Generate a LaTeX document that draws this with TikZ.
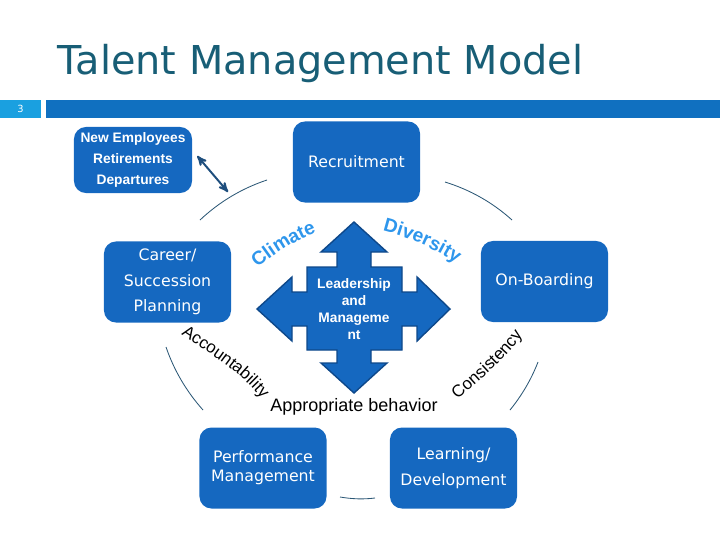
\documentclass[tikz,border=0pt]{standalone}
\usepackage{fontspec}
\setmainfont{DejaVu Sans}
\newfontfamily\arialfont{Liberation Sans}
\usepackage{tikz}
\usetikzlibrary{
  arrows,
  positioning,
  decorations.text
}
\definecolor{slidetitle}{RGB}{24,94,118}
\definecolor{boxblue}{RGB}{21,104,192}
\definecolor{barblue}{RGB}{16,112,192}
\definecolor{numcyan}{RGB}{26,160,224}
\definecolor{crossedge}{RGB}{14,72,138}
\definecolor{arcteal}{RGB}{44,88,118}
\definecolor{wordblue}{RGB}{46,150,236}
\definecolor{pairnavy}{RGB}{30,78,125}
\newcommand{\wordartfont}{\arialfont\bfseries\fontsize{13.6}{13.6}\selectfont\color{wordblue}}
\newcommand{\curvefont}{\arialfont\fontsize{12}{12}\selectfont}

\begin{document}
\begin{tikzpicture}[
      x=0.025cm,y=-0.025cm,
      stage/.style={
         rectangle,
         rounded corners=0.3cm,
         minimum width=3.175cm,
         minimum height=2.025cm,
         inner sep=0pt,
         fill=boxblue,
         text=white,
         align=center,
         font=\fontsize{11.2}{18.1}\selectfont
      },
      smallstage/.style={
         stage,
         minimum width=2.95cm,
         minimum height=1.65cm,
         font=\arialfont\bfseries\fontsize{9.8}{15}\selectfont
      },
      quad/.style={
         fill=boxblue,
         draw=crossedge,
         line width=1pt,
         line join=miter
      },
      numbox/.style={
         rectangle,
         fill=numcyan,
         text=white,
         minimum width=1.025cm,
         minimum height=0.45cm,
         inner sep=0pt,
         font=\fontsize{7}{8}\selectfont
      },
      cycle arc/.style={draw=arcteal,line width=0.6pt},
      wordart/.style={
         decorate,
         decoration={text along path,text align=center,text={#1}}
      },
      >=stealth',
      twoway/.style={<->,draw=pairnavy,line width=1.4pt},
    ]
    \useasboundingbox (0,0) rectangle (720,540);
    % header
    \node[anchor=base west,text=slidetitle,font=\fontsize{28.3}{30}\selectfont] (title) at (53,74) {Talent Management Model};
    \node[numbox] (slideno) at (20.5,109) {3};
    \fill[barblue] (46,100) rectangle (720,118);
    % stages of the cycle
    \node[smallstage] (newemp) at (133,160) {New Employees\\Retirements\\Departures};
    \node[stage] (recruit) at (356.5,162) {Recruitment};
    \node[stage] (career) at (167.5,282) {Career/\\Succession\\Planning};
    \node[stage] (onboard) at (544.5,281.5) {On-Boarding};
    \node[stage,font=\fontsize{11.2}{13.5}\selectfont] (perform) at (263,468) {Performance\\Management};
    \node[stage,font=\fontsize{11.2}{18.5}\selectfont] (learn) at (453.5,468) {Learning/\\Development};
    % arcs of the cycle
    \draw[cycle arc] (200,220) .. controls (219.4,201.8) and (241.8,188.4) .. (267,180);
    \draw[cycle arc] (445,182) .. controls (470.1,189.8) and (492.5,202.4) .. (512,220);
    \draw[cycle arc] (166,347) .. controls (174.1,370.5) and (186.5,391.5) .. (203,410);
    \draw[cycle arc] (538,362) .. controls (531.2,379.5) and (521.8,395.5) .. (510,410);
    \draw[cycle arc] (340,497) .. controls (352,499) and (363,499.5) .. (375,498);
    \coordinate (arctip) at (228,192);
    \draw[twoway] ([xshift=0.125cm,yshift=0.1cm]newemp.east) -- (arctip);
    % four-way arrow in the middle
    \draw[quad] (354,222) -- (387,252) -- (371,252) -- (371,267) -- (402,267) -- (402,292)
       -- (417,292) -- (417,277) -- (450,309) -- (417,341) -- (417,326) -- (402,326)
       -- (402,350) -- (371,350) -- (371,363) -- (387,363) -- (354,393) -- (321,363)
       -- (337,363) -- (337,350) -- (307,350) -- (307,326) -- (292,326) -- (292,341)
       -- (257,309) -- (292,277) -- (292,292) -- (307,292) -- (307,267) -- (337,267)
       -- (337,252) -- (321,252) -- cycle;
    \node[text=white,align=center,font=\arialfont\bfseries\fontsize{9.8}{11.9}\selectfont] (lead) at (354,309) {Leadership\\and\\Manageme\\nt};
    \node[anchor=base,font=\arialfont\fontsize{12.8}{13}\selectfont] (behavior) at (354,411) {Appropriate behavior};
    % words round the arrow
    \path[wordart={|\wordartfont|Climate}] (242,281) .. controls (269,256) and (299,236) .. (336,226);
    \path[wordart={|\wordartfont|Diversity}] (367,228) .. controls (395,232) and (440,248) .. (469,273);
    \path[wordart={|\curvefont|Accountability}] (167,325) .. controls (204,350.6) and (249,374) .. (271.5,413);
    \path[wordart={|\curvefont|Consistency}] (446,411) .. controls (475,382) and (512,357) .. (531,321);
\end{tikzpicture}
\end{document}
